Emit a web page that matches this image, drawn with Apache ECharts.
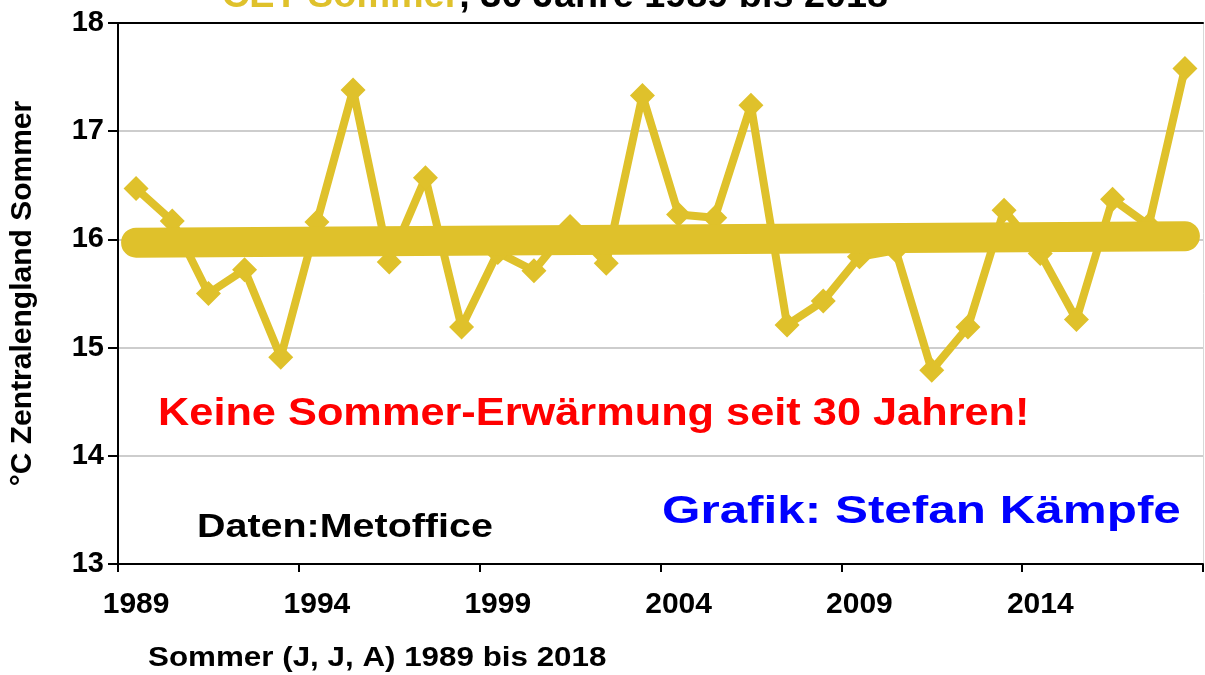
<!DOCTYPE html>
<html>
<head>
<meta charset="utf-8">
<script src="https://cdn.jsdelivr.net/npm/echarts@6/dist/echarts.min.js"></script>
<style>
  html, body { margin: 0; padding: 0; background: #fff; }
  #main { width: 1205px; height: 675px; }
</style>
</head>
<body>
<div id="main"></div>
<script>
// Jahre (Kategorien)
var years = ['1989', '1990', '1991', '1992', '1993', '1994', '1995', '1996', '1997', '1998',
  '1999', '2000', '2001', '2002', '2003', '2004', '2005', '2006', '2007', '2008',
  '2009', '2010', '2011', '2012', '2013', '2014', '2015', '2016', '2017', '2018'];

// CET Sommermittel in °C
var cetSommer = [16.47, 16.17, 15.50, 15.72, 14.91, 16.16, 17.38, 15.79, 16.57, 15.19,
  15.88, 15.71, 16.12, 15.78, 17.33, 16.23, 16.20, 17.24, 15.21, 15.43,
  15.84, 15.90, 14.79, 15.19, 16.27, 15.87, 15.26, 16.37, 16.13, 17.58];

// Trendlinie: Anfangs- und Endwert
var trendEnds = [15.97, 16.03];

var yTicks = [13, 14, 15, 16, 17, 18];

var gelb = '#DFC12B';
var fontFam = '"Liberation Sans", Arial, sans-serif';

var trendData = years.map(function (y, i) {
  if (i === 0) return trendEnds[0];
  if (i === years.length - 1) return trendEnds[1];
  return null;
});

var chart = echarts.init(document.getElementById('main'), null, { renderer: 'canvas' });

var option = {
  backgroundColor: '#FFFFFF',
  animation: false,
  grid: {
    left: 118,
    right: 2,
    top: 23,
    bottom: 111,
    containLabel: false,
    outerBoundsMode: 'none'
  },
  xAxis: [{
    type: 'category',
    data: years,
    boundaryGap: true,
    axisLine: { lineStyle: { color: '#000', width: 2 } },
    axisTick: { show: true, interval: 4, length: 8, lineStyle: { color: '#000', width: 2 } },
    axisLabel: {
      interval: 4,
      margin: 26,
      color: '#000',
      fontFamily: fontFam,
      fontWeight: 'bold',
      fontSize: 30
    },
    splitLine: { show: false }
  }, {
    type: 'category',
    position: 'top',
    data: years,
    axisLine: { lineStyle: { color: '#000', width: 2 } },
    axisTick: { show: false },
    axisLabel: { show: false }
  }],
  yAxis: [{
    type: 'value',
    min: yTicks[0],
    max: yTicks[yTicks.length - 1],
    interval: 1,
    name: '°C Zentralengland Sommer',
    nameLocation: 'middle',
    nameGap: 80,
    nameRotate: 90,
    nameTextStyle: {
      color: '#000',
      fontFamily: fontFam,
      fontWeight: 'bold',
      fontSize: 30
    },
    axisLine: { show: true, lineStyle: { color: '#000', width: 2 } },
    axisTick: { show: true, length: 10, lineStyle: { color: '#000', width: 2 } },
    axisLabel: {
      margin: 14,
      color: '#000',
      fontFamily: fontFam,
      fontWeight: 'bold',
      fontSize: 29
    },
    splitLine: { show: true, lineStyle: { color: '#BDBDBD', width: 1.5 } }
  }, {
    type: 'value',
    position: 'right',
    min: yTicks[0],
    max: yTicks[yTicks.length - 1],
    axisLine: { show: true, lineStyle: { color: '#D8D8D8', width: 1 } },
    axisTick: { show: false },
    axisLabel: { show: false },
    splitLine: { show: false }
  }],
  series: [{
    name: 'CET Sommer',
    type: 'line',
    data: cetSommer,
    symbol: 'diamond',
    symbolSize: 25,
    showSymbol: true,
    showAllSymbol: true,
    lineStyle: { color: gelb, width: 8 },
    itemStyle: { color: gelb },
    z: 2
  }, {
    name: 'Trend',
    type: 'line',
    data: trendData,
    connectNulls: true,
    showSymbol: false,
    symbol: 'none',
    lineStyle: { color: gelb, width: 30, cap: 'round' },
    z: 3
  }],
  graphic: [{
    type: 'text',
    x: 222,
    y: 15,
    scaleX: 1.05,
    style: {
      text: '{a|CET Sommer}{b|, 30 Jahre 1989 bis 2018}',
      font: 'bold 36px ' + fontFam,
      textAlign: 'left',
      textVerticalAlign: 'bottom',
      rich: {
        a: { fill: gelb, font: 'bold 36px ' + fontFam },
        b: { fill: '#000', font: 'bold 36px ' + fontFam }
      }
    }
  }, {
    type: 'text',
    x: 158,
    y: 415,
    scaleX: 1.14,
    z: 10,
    style: {
      text: 'Keine Sommer-Erwärmung seit 30 Jahren!',
      fill: '#FF0000',
      font: 'bold 38px ' + fontFam,
      textAlign: 'left',
      textVerticalAlign: 'middle'
    }
  }, {
    type: 'text',
    x: 662,
    y: 513,
    scaleX: 1.3,
    z: 10,
    style: {
      text: 'Grafik: Stefan Kämpfe',
      fill: '#0000FF',
      font: 'bold 38px ' + fontFam,
      textAlign: 'left',
      textVerticalAlign: 'middle'
    }
  }, {
    type: 'text',
    x: 197,
    y: 528,
    scaleX: 1.16,
    z: 10,
    style: {
      text: 'Daten:Metoffice',
      fill: '#000',
      font: 'bold 34px ' + fontFam,
      textAlign: 'left',
      textVerticalAlign: 'middle'
    }
  }, {
    type: 'text',
    x: 148,
    y: 658,
    scaleX: 1.12,
    style: {
      text: 'Sommer (J, J, A) 1989 bis 2018',
      fill: '#000',
      font: 'bold 28px ' + fontFam,
      textAlign: 'left',
      textVerticalAlign: 'middle'
    }
  }]
};

chart.setOption(option);
</script>
</body>
</html>
